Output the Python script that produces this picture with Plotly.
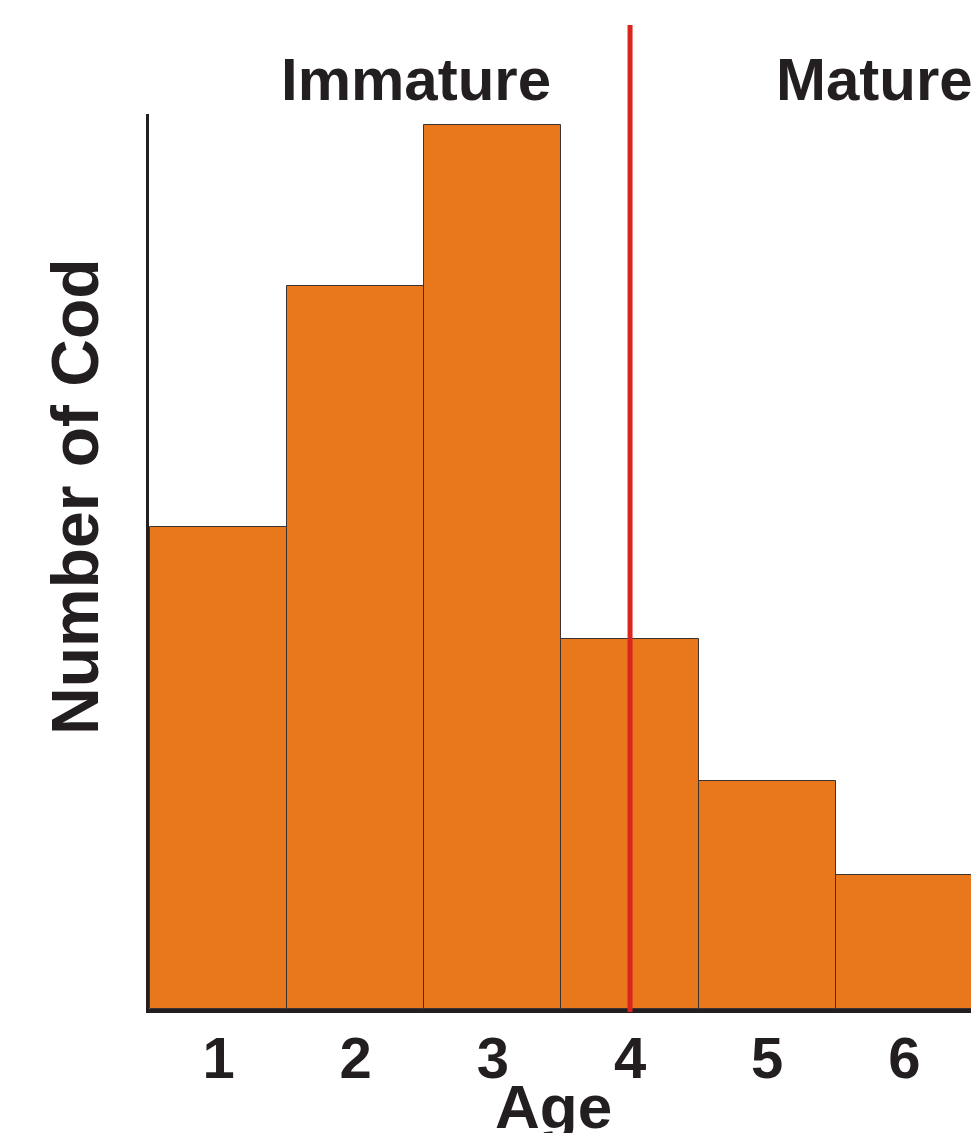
import plotly.graph_objects as go

ages = [1, 2, 3, 4, 5, 6]
tick_labels = ["1", "2", "3", "4", "5", "6"]
counts = [53.9, 80.8, 98.8, 41.3, 25.5, 15.0]
maturity_age = 4
group_labels = ["Immature", "Mature"]

FONT = "Liberation Sans, Arial, Helvetica, sans-serif"
INK = "#231f20"

# page body has an 8px margin; figure is sized/positioned to compensate
OFF = 8
W, H = 979 - OFF, 1133 - OFF
L, T, B = 149 - OFF, 114 - OFF, 124
PW, PH = W - L, H - T - B


def px(xs):
    return (xs - OFF - L) / PW


def py(ys):
    return (H - B - (ys - OFF)) / PH


fig = go.Figure()
fig.add_trace(go.Bar(
    x=ages, y=counts, width=1.0,
    marker=dict(color="#E9781C", line=dict(color="#3a3330", width=1)),
    hoverinfo="x+y",
))

fig.add_shape(type="line", xref="x", yref="paper",
              x0=maturity_age, x1=maturity_age, y0=py(1012), y1=py(25),
              line=dict(color="#DA251D", width=5), layer="above")

fig.add_annotation(text=group_labels[0], xref="paper", yref="paper",
                   x=px(416), y=py(80),
                   xanchor="center", yanchor="middle", showarrow=False,
                   font=dict(family=FONT, size=60, color=INK, weight="bold"))
fig.add_annotation(text=group_labels[1], xref="paper", yref="paper",
                   x=px(874), y=py(80),
                   xanchor="center", yanchor="middle", showarrow=False,
                   font=dict(family=FONT, size=60, color=INK, weight="bold"))
fig.add_annotation(text="Number of Cod", xref="paper", yref="paper",
                   x=px(75), y=py(497), textangle=-90,
                   xanchor="center", yanchor="middle", showarrow=False,
                   font=dict(family=FONT, size=66, color=INK, weight="bold"))
fig.add_annotation(text="Age", xref="paper", yref="paper",
                   x=px(553), y=py(1106),
                   xanchor="center", yanchor="middle", showarrow=False,
                   font=dict(family=FONT, size=62, color=INK, weight="bold"))

fig.update_layout(
    width=W, height=H,
    margin=dict(l=L, r=0, t=T, b=B),
    paper_bgcolor="white", plot_bgcolor="white",
    showlegend=False, bargap=0,
    font=dict(family=FONT, color=INK),
)
fig.update_xaxes(range=[0.493, 6.544], tickmode="array", tickvals=ages,
                 ticktext=tick_labels, showgrid=False, zeroline=False,
                 showline=True, linecolor=INK, linewidth=4, ticks="",
                 tickfont=dict(family=FONT, size=58, color=INK, weight="bold"),
                 ticklabelstandoff=-5)
fig.update_yaxes(range=[0, 100], showgrid=False, zeroline=False,
                 showline=True, linecolor=INK, linewidth=3,
                 showticklabels=False, ticks="")

fig.write_html("out.html")
